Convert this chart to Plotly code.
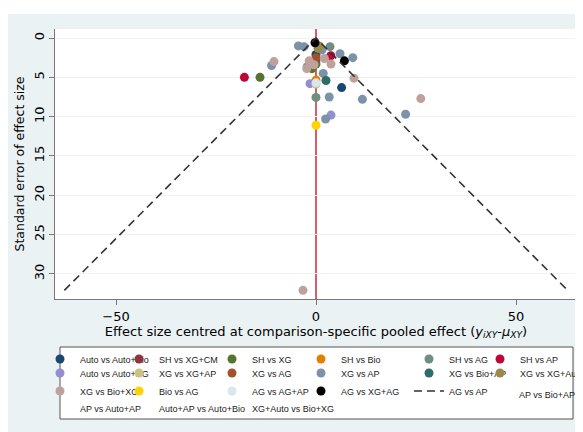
import plotly.graph_objects as go

# ---- data: (effect size centred, standard error) per comparison ----
auto_auto_bio_x = [0.0, 6.4]
auto_auto_bio_se = [2.1, 6.3]
sh_xgcm_x = [0.0]
sh_xgcm_se = [2.8]
sh_xg_x = [-14.0, 0.0, -1.0]
sh_xg_se = [5.0, 3.3, 3.9]
sh_bio_x = [0.0]
sh_bio_se = [5.35]
sh_ag_x = [3.5, 0.0]
sh_ag_se = [1.1, 7.55]
sh_ap_x = [-17.9, 3.7]
sh_ap_se = [5.0, 2.25]
auto_auto_xg_x = [-1.5, 3.75]
auto_auto_xg_se = [5.8, 9.8]
xg_xgap_x = [0.0]
xg_xgap_se = [5.85]
xg_ag_x = [0.0]
xg_ag_se = [2.5]
xg_ap_x = [-4.4, -3.0, 6.0, 9.2, -11.1, 1.8, 3.3, 11.6, 22.4, 2.4, -2.2, 1.5]
xg_ap_se = [1.0, 1.1, 2.0, 2.5, 3.5, 4.5, 7.5, 7.8, 9.7, 10.3, 3.65, 1.5]
xg_bioap_x = [2.5]
xg_bioap_se = [5.4]
xg_xgauto_x = [0.8, 0.5]
xg_xgauto_se = [1.0, 1.3]
xg_bioxg_x = [2.1, -1.7, 3.75, -2.3, 9.5, 26.2, -10.5, -3.25, -0.5]
xg_bioxg_se = [2.6, 2.9, 3.3, 3.9, 5.1, 7.7, 3.0, 32.1, 3.4]
bio_ag_x = [0.0]
bio_ag_se = [11.1]
ag_agap_x = [0.0]
ag_agap_se = [5.7]
ag_xgag_x = [-0.25, 7.1]
ag_xgag_se = [0.6, 2.9]

max_se = 32.1
funnel_x = [-1.96 * max_se, 0, 1.96 * max_se]
funnel_y = [max_se, 0, max_se]

x_ticks = [-50, 0, 50]
y_ticks = [0, 5, 10, 15, 20, 25, 30]

series = [
    ("Auto vs Auto+Bio", auto_auto_bio_x, auto_auto_bio_se, "#1a476f"),
    ("SH vs XG+CM", sh_xgcm_x, sh_xgcm_se, "#90353b"),
    ("SH vs XG", sh_xg_x, sh_xg_se, "#55752f"),
    ("SH vs Bio", sh_bio_x, sh_bio_se, "#e37e00"),
    ("SH vs AG", sh_ag_x, sh_ag_se, "#6e8e84"),
    ("SH vs AP", sh_ap_x, sh_ap_se, "#c10534"),
    ("Auto vs Auto+XG", auto_auto_xg_x, auto_auto_xg_se, "#938dd2"),
    ("XG vs XG+AP", xg_xgap_x, xg_xgap_se, "#cac27e"),
    ("XG vs AG", xg_ag_x, xg_ag_se, "#a0522d"),
    ("XG vs AP", xg_ap_x, xg_ap_se, "#7b92a8"),
    ("XG vs Bio+AP", xg_bioap_x, xg_bioap_se, "#2d6d66"),
    ("XG vs XG+Auto", xg_xgauto_x, xg_xgauto_se, "#9c8847"),
    ("XG vs Bio+XG", xg_bioxg_x, xg_bioxg_se, "#bfa19c"),
    ("Bio vs AG", bio_ag_x, bio_ag_se, "#ffd200"),
    ("AG vs AG+AP", ag_agap_x, ag_agap_se, "#d9e6eb"),
    ("AG vs XG+AG", ag_xgag_x, ag_xgag_se, "#000000"),
]
funnel_name = "AG vs AP"
text_only = ["AP vs Bio+AP", "AP vs Auto+AP", "Auto+AP vs Auto+Bio", "XG+Auto vs Bio+XG"]

# legend grid (text start x, row centre y) in screen pixels, in legend order
legend_text_x = [78, 157, 250, 339, 447, 518,
                 78, 157, 250, 339, 447, 518,
                 78, 157, 250, 339, 447, 517,
                 78, 157, 250]
legend_row_y = [359] * 6 + [373] * 6 + [391] * 5 + [394] + [408] * 3

# the page body adds an 8px offset; size the figure to the visible window
OFF = 8
W, H = 583 - OFF, 432 - OFF
ML, MR, MT, MB = 47, 6, 21, 133
PW, PH = W - ML - MR, H - MT - MB


def sx(px):  # screen x -> paper x
    return (px - OFF - ML) / PW


def sy(py):  # screen y -> paper y
    return (H - MB - (py - OFF)) / PH


FONT = "DejaVu Sans"
LFONT = "Liberation Sans"
fig = go.Figure()
layout_legends = {}


def legend_key(i):
    return "legend" if i == 0 else f"legend{i + 1}"


def add_legend(i):
    layout_legends[legend_key(i)] = dict(
        orientation="v", x=sx(legend_text_x[i] - 38), xanchor="left",
        y=sy(legend_row_y[i]), yanchor="middle",
        bgcolor="rgba(0,0,0,0)", borderwidth=0, itemwidth=30,
        font=dict(family=LFONT, size=9, color="#222222"))


idx = 0
for name, xs, ys, col in series:
    fig.add_trace(go.Scatter(x=xs, y=ys, mode="markers", name=name,
                             marker=dict(color=col, size=9, line=dict(width=0)),
                             legend=legend_key(idx)))
    add_legend(idx)
    idx += 1

fig.add_trace(go.Scatter(x=funnel_x, y=funnel_y, mode="lines", name=funnel_name,
                         line=dict(color="#333333", width=1.6, dash="8px,5px"),
                         legend=legend_key(idx)))
add_legend(idx)
idx += 1
for name in text_only:
    fig.add_trace(go.Scatter(x=[None], y=[None], mode="markers", name=name,
                             marker=dict(color="rgba(0,0,0,0)", size=9),
                             legend=legend_key(idx)))
    add_legend(idx)
    idx += 1

fig.add_vline(x=0, line=dict(color="#c8283a", width=1.5), layer="below")

# white strip above the graph region
fig.add_shape(type="rect", xref="paper", yref="paper",
              x0=sx(0), x1=sx(590), y0=sy(14), y1=sy(0),
              fillcolor="white", line=dict(width=0), layer="below")
# legend box
fig.add_shape(type="rect", xref="paper", yref="paper",
              x0=sx(60), x1=sx(573), y0=sy(419), y1=sy(347),
              fillcolor="white", line=dict(color="#555555", width=1), layer="below")

fig.update_layout(
    width=W, height=H,
    margin=dict(l=ML, r=MR, t=MT, b=MB, autoexpand=False),
    paper_bgcolor="#eaf2f3",
    plot_bgcolor="white",
    font=dict(family=FONT, color="#000000"),
    showlegend=True,
    xaxis=dict(range=[-65.25, 65.25], tickvals=x_ticks, ticks="outside", ticklen=5,
               tickcolor="#777777", showgrid=False, zeroline=False,
               showline=True, linecolor="#777777", linewidth=1,
               tickfont=dict(family=FONT, size=13),
               title=dict(text="Effect size centred at comparison-specific pooled effect "
                               "(<i>y</i><sub><i>iXY</i></sub>-<i>μ</i><sub><i>XY</i></sub>)",
                          font=dict(family=FONT, size=13), standoff=2)),
    yaxis=dict(range=[33.2, -1.15], tickvals=y_ticks, ticks="outside", ticklen=5,
               tickcolor="#777777", tickangle=-90, showgrid=True, gridcolor="#edf2f3",
               gridwidth=1, zeroline=False, showline=True, linecolor="#777777", linewidth=1,
               tickfont=dict(family=FONT, size=13),
               title=dict(text="Standard error of effect size",
                          font=dict(family=FONT, size=12.5), standoff=4)),
    **layout_legends,
)

fig.write_html("out.html")
